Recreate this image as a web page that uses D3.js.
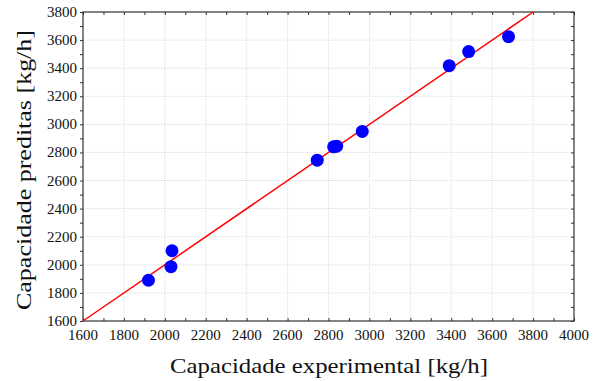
<!DOCTYPE html>
<html>
<head>
<meta charset="utf-8">
<script src="https://cdn.jsdelivr.net/npm/d3@7"></script>
<style>
  body { margin: 0; background: #fff; }
</style>
</head>
<body>
<div id="vis"></div>
<script>
// measured vs predicted capacity, kg/h
const experimental = [1920, 2030, 2035, 2745, 2825, 2840, 2965, 3390, 3485, 3680];
const predicted    = [1890, 1987, 2100, 2745, 2840, 2845, 2950, 3418, 3518, 3624];
const xTicks = [1600, 1800, 2000, 2200, 2400, 2600, 2800, 3000, 3200, 3400, 3600, 3800, 4000];
const yTicks = [1600, 1800, 2000, 2200, 2400, 2600, 2800, 3000, 3200, 3400, 3600, 3800];
const fitLine = [[1600, 1600], [3800, 3800]];

const WIDTH = 601, HEIGHT = 381;
const LEFT = 83, RIGHT = 574, TOP = 12, BOTTOM = 321;
const FONT = "Liberation Serif";

var svg = d3.select("#vis").append("svg")
    .attr("width", WIDTH)
    .attr("height", HEIGHT);

var x = d3.scaleLinear().domain([1600, 4000]).range([LEFT, RIGHT]);
var y = d3.scaleLinear().domain([1600, 3800]).range([BOTTOM, TOP]);

// dotted grid on major ticks
svg.append("g").selectAll("line")
    .data(xTicks.slice(1, -1))
    .enter().append("line")
    .attr("x1", d => x(d)).attr("x2", d => x(d))
    .attr("y1", TOP).attr("y2", BOTTOM)
    .attr("stroke", "#dcdcdc").attr("stroke-dasharray", "1,1");
svg.append("g").selectAll("line")
    .data(yTicks.slice(1, -1))
    .enter().append("line")
    .attr("x1", LEFT).attr("x2", RIGHT)
    .attr("y1", d => y(d)).attr("y2", d => y(d))
    .attr("stroke", "#dcdcdc").attr("stroke-dasharray", "1,1");

// axes, ticks every 100
var minorX = d3.range(1600, 4001, 100);
var minorY = d3.range(1600, 3801, 100);

svg.append("g")
    .attr("transform", "translate(0," + BOTTOM + ")")
    .call(d3.axisBottom(x).tickValues(minorX).tickSize(-3).tickFormat(""))
    .call(g => g.select(".domain").remove());
svg.append("g")
    .attr("transform", "translate(0," + TOP + ")")
    .call(d3.axisTop(x).tickValues(minorX).tickSize(-3).tickFormat(""))
    .call(g => g.select(".domain").remove());
svg.append("g")
    .attr("transform", "translate(" + LEFT + ",0)")
    .call(d3.axisLeft(y).tickValues(minorY).tickSize(3).tickFormat(""))
    .call(g => g.select(".domain").remove());
svg.append("g")
    .attr("transform", "translate(" + RIGHT + ",0)")
    .call(d3.axisRight(y).tickValues(minorY).tickSize(-3).tickFormat(""))
    .call(g => g.select(".domain").remove());

svg.selectAll(".tick line").attr("stroke", "#333");

// tick labels
svg.append("g").selectAll("text")
    .data(xTicks)
    .enter().append("text")
    .attr("x", d => x(d))
    .attr("y", BOTTOM + 19)
    .attr("text-anchor", "middle")
    .attr("font-family", FONT)
    .attr("font-size", "15px")
    .attr("fill", "#111")
    .text(d => d);
svg.append("g").selectAll("text")
    .data(yTicks)
    .enter().append("text")
    .attr("x", LEFT - 6)
    .attr("y", d => y(d) + 5)
    .attr("text-anchor", "end")
    .attr("font-family", FONT)
    .attr("font-size", "15px")
    .attr("fill", "#111")
    .text(d => d);

// frame
svg.append("rect")
    .attr("x", LEFT).attr("y", TOP)
    .attr("width", RIGHT - LEFT).attr("height", BOTTOM - TOP)
    .attr("fill", "none").attr("stroke", "#333").attr("stroke-width", 1.2);

// y = x line
svg.append("path")
    .datum(fitLine)
    .attr("d", d3.line().x(d => x(d[0])).y(d => y(d[1])))
    .attr("stroke", "#ff0000").attr("stroke-width", 1.5).attr("fill", "none");

// points
svg.append("g").selectAll("circle")
    .data(experimental)
    .enter().append("circle")
    .attr("cx", d => x(d))
    .attr("cy", (d, i) => y(predicted[i]))
    .attr("r", 6.5)
    .attr("fill", "#0000ff");

// titles
svg.append("text")
    .attr("x", 329)
    .attr("y", 373)
    .attr("text-anchor", "middle")
    .attr("font-family", FONT)
    .attr("font-size", "21px")
    .attr("fill", "#111")
    .attr("textLength", 318)
    .attr("lengthAdjust", "spacingAndGlyphs")
    .text("Capacidade experimental [kg/h]");
svg.append("text")
    .attr("transform", "translate(31,170) rotate(-90)")
    .attr("text-anchor", "middle")
    .attr("font-family", FONT)
    .attr("font-size", "21px")
    .attr("fill", "#111")
    .attr("textLength", 280)
    .attr("lengthAdjust", "spacingAndGlyphs")
    .text("Capacidade preditas [kg/h]");
</script>
</body>
</html>
